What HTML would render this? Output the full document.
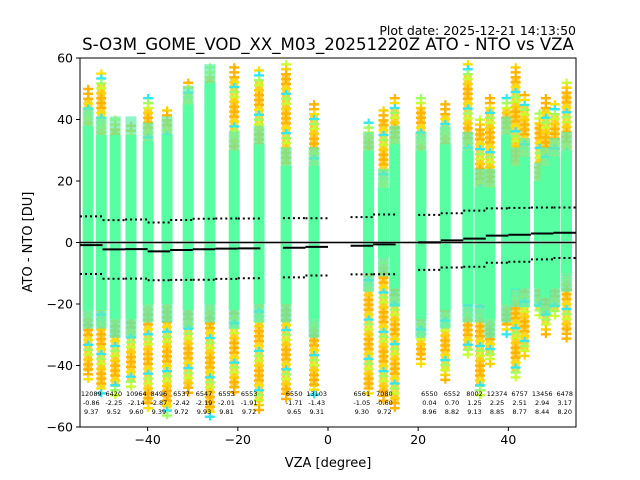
<!DOCTYPE html>
<html><head><meta charset="utf-8"><style>body{margin:0;background:#fff}svg{display:block;font-family:"DejaVu Sans","Liberation Sans",sans-serif}</style></head>
<body>
<svg id="chart" width="640" height="480" viewBox="0 0 640 480" xmlns="http://www.w3.org/2000/svg">
<rect width="640" height="480" fill="#fff"/>
<text x="576" y="35" text-anchor="end" font-size="12.5">Plot date: 2025-12-21 14:13:50</text>
<text x="328" y="50" text-anchor="middle" font-size="16.6">S-O3M_GOME_VOD_XX_M03_20251220Z ATO - NTO vs VZA</text>
<g id="cols"></g>
<g id="stats"></g>
<g id="axes"></g>
<text x="328" y="467" text-anchor="middle" font-size="13">VZA [degree]</text>
<text transform="translate(32,242) rotate(-90)" text-anchor="middle" font-size="13">ATO - NTO [DU]</text>
</svg>
<script>
// column data (VZA, extents in DU)
const colVza  = [-53.2,-50.3,-47.2,-43.7,-39.9,-35.7,-31.0,-26.2,-20.8,-15.3,-9.3,-3.1,9.0,12.3,14.8,20.6,26.0,31.0,33.7,35.9,39.6,41.6,43.6,46.9,48.3,50.3,52.9];
const colTop  = [50,55,40,38,47,43,52,57,57,56,58,45,39,43,47,47,45,58,40,47,47,57,48,42,47,45,52];
const colGTop = [38,35,35,35,33,35,45,52,30,32,25,25,30,18,32,30,32,30,18,18,35,25,28,20,25,28,30];
const colGBot = [-22,-22,-25,-25,-20,-20,-22,-20,-22,-20,-20,-25,-10,-5,-15,-25,-22,-20,-20,-25,-20,-15,-15,-15,-18,-15,-10];
const colBot  = [-45,-50,-50,-48,-55,-57,-50,-58,-50,-55,-52,-50,-50,-52,-55,-40,-45,-38,-50,-40,-30,-45,-38,-25,-30,-25,-32];
// bin statistics
const binCenter = [-52.5,-47.5,-42.5,-37.5,-32.5,-27.5,-22.5,-17.5,-7.5,-2.5,7.5,12.5,22.5,27.5,32.5,37.5,42.5,47.5,52.5];
const binCount = [12089,6420,10964,8496,6537,6547,6553,6553,6550,13103,6561,7080,6550,6552,8002,12374,6757,13456,6478];
const binMean = [-0.86,-2.25,-2.14,-2.87,-2.42,-2.19,-2.01,-1.91,-1.71,-1.43,-1.05,-0.60,0.04,0.70,1.25,2.25,2.51,2.94,3.17];
const binStd = [9.37,9.52,9.60,9.39,9.72,9.93,9.81,9.72,9.65,9.31,9.30,9.72,8.96,8.82,9.13,8.85,8.77,8.44,8.20];
const xTicks = [-40,-20,0,20,40];
const yTicks = [60,40,20,0,-20,-40,-60];

const L=80,R=576,T=58,B=427, xmin=-55, xmax=55, ymin=-60, ymax=60;
const X=v=>L+(v-xmin)/(xmax-xmin)*(R-L);
const Y=v=>B-(v-ymin)/(ymax-ymin)*(B-T);
const NS="http://www.w3.org/2000/svg";
function mk(tag,attrs,parent){const e=document.createElementNS(NS,tag);for(const k in attrs)e.setAttribute(k,attrs[k]);parent.appendChild(e);return e;}
const cols=document.getElementById('cols');
const warm=['#ffb400','#ffe000','#c8ff30','#ffb400','#30e8f0','#ffd000','#ffb400','#a0ff60'];
colVza.forEach((v,i)=>{
  const cx=X(v);
  const g=mk('g',{},cols);
  
  
  // warm marker band
  mk('rect',{x:cx-4,y:Y(colTop[i]-3),width:8,height:Y(colBot[i]+3)-Y(colTop[i]-3),fill:'#ffd040'},g);
  let k=0;
  for(let d=colTop[i]; d>=colBot[i]; d-=1.6){
    const c=warm[(k*3+i)%warm.length]; k++;
    const y=Y(d);
    mk('rect',{x:cx-5,y:y-1,width:10,height:2.4,fill:c},g);
    mk('rect',{x:cx-1,y:y-4,width:2.2,height:8,fill:c},g);
  }
  // transition band
  mk('rect',{x:cx-5.5,y:Y(colGTop[i]+6),width:11,height:Y(colGTop[i])-Y(colGTop[i]+6),fill:'#60f0b0',opacity:0.7},g);
  mk('rect',{x:cx-5.5,y:Y(colGBot[i]),width:11,height:Y(colGBot[i]-6)-Y(colGBot[i]),fill:'#50f0c0',opacity:0.7},g);
  const r=mk('rect',{x:cx-5.5,y:Y(colGTop[i]),width:11,height:Y(colGBot[i])-Y(colGTop[i]),fill:'#58ffa2'},g);
  
  
});
const stats=document.getElementById('stats');
mk('line',{x1:L,x2:R,y1:Y(0),y2:Y(0),stroke:'#888',"stroke-width":3,opacity:0.6},stats);
mk('line',{x1:L,x2:R,y1:Y(0),y2:Y(0),stroke:'#000',"stroke-width":1},stats);
binCenter.forEach((c,i)=>{
  const x1=X(c-2.5),x2=X(c+2.5);
  const m=mk('line',{x1:x1,x2:x2,y1:Y(binMean[i]),y2:Y(binMean[i]),stroke:'#000',"stroke-width":2},stats);
  
  
  [binMean[i]+binStd[i],binMean[i]-binStd[i]].forEach(s=>{
    const d=mk('line',{x1:x1,x2:x2,y1:Y(s),y2:Y(s),stroke:'#000',"stroke-width":2,"stroke-dasharray":"2,3"},stats);
    
    
  });
  const t=mk('text',{x:X(c),y:396,"text-anchor":"middle","font-size":"6.5"},stats);
  
  
  [binCount[i],binMean[i].toFixed(2),binStd[i].toFixed(2)].forEach((s,j)=>{const ts=mk('tspan',{x:X(c),dy:j?9:0},t);ts.textContent=s;});
});
const axes=document.getElementById('axes');
const fr=mk('rect',{x:L,y:T,width:R-L,height:B-T,fill:'none',stroke:'#000',"stroke-width":1},axes);


xTicks.forEach(v=>{
  mk('line',{x1:X(v),x2:X(v),y1:B,y2:B+4,stroke:'#000'},axes);
  const t=mk('text',{x:X(v),y:B+17,"text-anchor":"middle","font-size":"12.5"},axes);
  
  
  t.textContent=v<0?'\u2212'+(-v):v;
});
yTicks.forEach(v=>{
  mk('line',{x1:L-4,x2:L,y1:Y(v),y2:Y(v),stroke:'#000'},axes);
  const t=mk('text',{x:L-7,y:Y(v)+4.5,"text-anchor":"end","font-size":"12.5"},axes);
  
  
  t.textContent=v<0?'\u2212'+(-v):v;
});
</script>
</body></html>
